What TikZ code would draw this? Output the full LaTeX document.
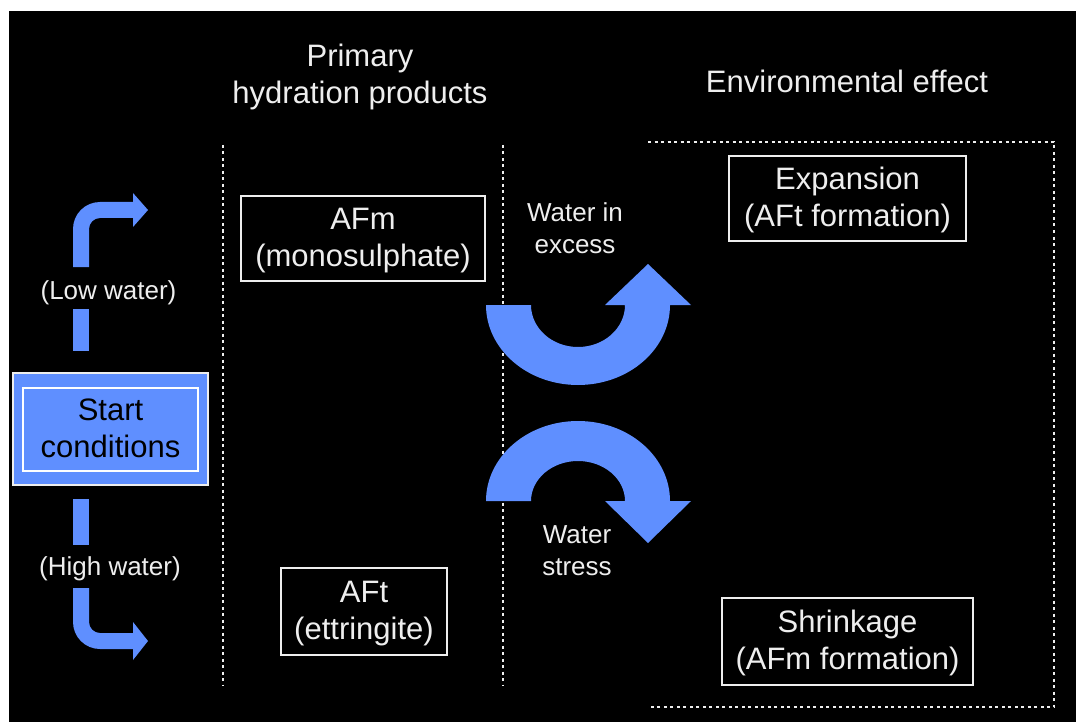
\documentclass[tikz,border=0pt]{standalone}
\usepackage{fontspec}
\setmainfont{Liberation Sans}
\definecolor{arrowblue}{RGB}{95,143,255}
\definecolor{txt}{RGB}{238,238,238}
\newcommand\boxtopstrut{\rule{0pt}{31pt}}
\tikzset{
  big/.style={font=\fontsize{31}{37}\selectfont, text=txt, align=center, inner sep=0pt},
  small/.style={font=\fontsize{26}{32}\selectfont, text=txt, align=center, inner sep=0pt},
  prodbox/.style={big, draw=txt, line width=2pt},
  dotline/.style={draw=txt, line width=2.3pt, dash pattern=on 3pt off 3.5pt},
  bluearrow/.style={fill=arrowblue, draw=none},
}
\begin{document}
\begin{tikzpicture}[x=1pt,y=1pt]
\fill[white] (0,0) rectangle (1076,-722);
\useasboundingbox (0,0) rectangle (1076,-722);
\fill[black] (9,-11) rectangle (1076,-722);

% dotted separators
\draw[dotline] (223,-145) -- (223,-685);
\draw[dotline] (503,-145) -- (503,-685);
\draw[dotline] (648,-142) -- (1054,-142) -- (1054,-707) -- (648,-707);

% headings
\node[big] (title) at (360,-78) {\strut Primary\\hydration products\strut};
\node[big, anchor=base] (env) at (847,-93) {Environmental effect};

% boxes
\node[prodbox, minimum width=244pt, minimum height=85pt] (afm) at (363,-238.5) {\boxtopstrut AFm\\(monosulphate)\strut};
\node[prodbox, minimum width=166pt, minimum height=87pt] (aft) at (364,-611.5) {\boxtopstrut AFt\\(ettringite)\strut};
\node[prodbox, minimum width=237pt, minimum height=85pt] (exp) at (847.5,-198.5) {\boxtopstrut Expansion\\(AFt formation)\strut};
\node[prodbox, minimum width=251pt, minimum height=87pt] (shr) at (847.5,-641.5) {\boxtopstrut Shrinkage\\(AFm formation)\strut};

% start box
\node[draw=txt, line width=1.5pt, fill=arrowblue, minimum width=195pt, minimum height=112pt, inner sep=0pt] (startout) at (110.5,-429) {};
\node[big, text=black, draw=white, line width=1.5pt, minimum width=175pt, minimum height=83pt] (start) at (110.5,-429.5) {\boxtopstrut Start\\conditions\strut};

% labels
\node[small, anchor=base] (low) at (108.5,-299) {(Low water)};
\node[small, anchor=base] (high) at (110,-575) {(High water)};
\node[small] (wex) at (575,-230.6) {\strut Water in\\excess\strut};
\node[small] (wst) at (577,-552.6) {\strut Water\\stress\strut};

% left arrow pieces
\fill[bluearrow] (73,-309) rectangle (89,-351);
\fill[bluearrow] (73,-499) rectangle (89,-545);
\fill[bluearrow] (73,-267) -- (73,-229) arc[start angle=180, end angle=90, radius=27]
  -- (133,-202) -- (133,-193) -- (148,-210) -- (133,-227) -- (133,-218) -- (100,-218)
  arc[start angle=90, end angle=180, radius=11] -- (89,-267) -- cycle;
\fill[bluearrow] (73,-588) -- (73,-622) arc[start angle=180, end angle=270, radius=27]
  -- (133,-649) -- (133,-660) -- (148,-641) -- (133,-622) -- (133,-633) -- (100,-633)
  arc[start angle=270, end angle=180, radius=11] -- (89,-588) -- cycle;

% curved arrows
\fill[bluearrow] (486,-305) arc[start angle=180, end angle=360, x radius=92, y radius=80]
  -- (691,-305) -- (648,-264) -- (605,-305) -- (625,-305)
  arc[start angle=0, end angle=-180, x radius=47, y radius=42] -- cycle;
\fill[bluearrow] (486,-501) arc[start angle=180, end angle=0, x radius=92, y radius=80]
  -- (691,-501) -- (648,-543) -- (605,-501) -- (625,-501)
  arc[start angle=0, end angle=180, x radius=47, y radius=40] -- cycle;
\end{tikzpicture}
\end{document}
